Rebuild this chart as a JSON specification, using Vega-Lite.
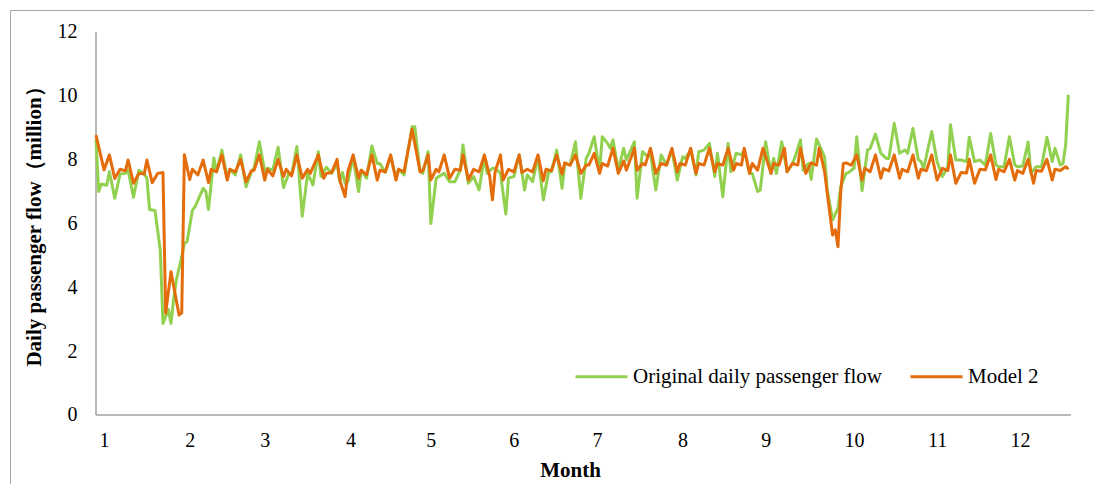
{
  "$schema": "https://vega.github.io/schema/vega-lite/v6.json",
  "width": 1084,
  "height": 474,
  "autosize": {"type": "none"},
  "padding": {"left": 10, "top": 10, "right": 0, "bottom": 0},
  "background": "white",
  "config": {
    "view": {"stroke": "#A6A6A6", "strokeWidth": 1},
    "axis": {"grid": false, "domain": false, "ticks": false, "labelFont": "Liberation Serif", "labelFontSize": 20, "labelColor": "#000000", "titleFont": "Liberation Serif", "titleFontSize": 21, "titleFontWeight": "bold", "titleColor": "#000000"},
    "legend": {"labelFont": "Liberation Serif", "labelFontSize": 21, "labelColor": "#000000", "labelLimit": 0}
  },
  "datasets": {
    "orig": [{"d":1,"v":8.62},{"d":2,"v":7.0},{"d":3,"v":7.24},{"d":5,"v":7.2},{"d":6,"v":7.62},{"d":8,"v":6.79},{"d":10,"v":7.55},{"d":12,"v":7.57},{"d":13,"v":7.67},{"d":15,"v":6.82},{"d":17,"v":7.67},{"d":19,"v":7.55},{"d":20,"v":7.42},{"d":21,"v":6.44},{"d":23,"v":6.41},{"d":25,"v":5.17},{"d":26,"v":2.87},{"d":28,"v":3.31},{"d":29,"v":2.87},{"d":30,"v":3.65},{"d":31,"v":4.23},{"d":33,"v":4.96},{"d":34,"v":5.38},{"d":35,"v":5.43},{"d":37,"v":6.42},{"d":38,"v":6.53},{"d":41,"v":7.1},{"d":42,"v":7.0},{"d":43,"v":6.44},{"d":45,"v":8.05},{"d":46,"v":7.62},{"d":48,"v":8.3},{"d":50,"v":7.42},{"d":51,"v":7.7},{"d":53,"v":7.52},{"d":55,"v":8.15},{"d":57,"v":7.15},{"d":59,"v":7.62},{"d":60,"v":7.73},{"d":62,"v":8.56},{"d":64,"v":7.62},{"d":65,"v":7.73},{"d":67,"v":7.67},{"d":69,"v":8.39},{"d":71,"v":7.13},{"d":73,"v":7.57},{"d":74,"v":7.52},{"d":76,"v":8.41},{"d":78,"v":6.23},{"d":80,"v":7.57},{"d":82,"v":7.21},{"d":84,"v":8.25},{"d":85,"v":7.47},{"d":87,"v":7.76},{"d":89,"v":7.57},{"d":91,"v":7.88},{"d":92,"v":7.31},{"d":93,"v":7.6},{"d":94,"v":7.26},{"d":95,"v":7.3},{"d":97,"v":8.09},{"d":99,"v":7.0},{"d":100,"v":7.67},{"d":102,"v":7.42},{"d":104,"v":8.43},{"d":106,"v":7.88},{"d":107,"v":7.88},{"d":109,"v":7.6},{"d":111,"v":8.1},{"d":113,"v":7.42},{"d":114,"v":7.7},{"d":116,"v":7.52},{"d":119,"v":9.03},{"d":120,"v":9.03},{"d":122,"v":7.62},{"d":123,"v":7.57},{"d":125,"v":8.25},{"d":126,"v":6.0},{"d":128,"v":7.42},{"d":129,"v":7.47},{"d":131,"v":7.57},{"d":133,"v":7.31},{"d":135,"v":7.31},{"d":137,"v":7.67},{"d":138,"v":8.46},{"d":140,"v":7.26},{"d":142,"v":7.47},{"d":144,"v":7.05},{"d":146,"v":8.09},{"d":147,"v":7.57},{"d":149,"v":7.73},{"d":150,"v":7.73},{"d":152,"v":7.57},{"d":154,"v":6.3},{"d":155,"v":7.42},{"d":157,"v":7.47},{"d":159,"v":8.15},{"d":161,"v":7.05},{"d":162,"v":7.52},{"d":164,"v":7.31},{"d":166,"v":8.09},{"d":168,"v":6.74},{"d":170,"v":7.62},{"d":171,"v":7.62},{"d":173,"v":8.3},{"d":175,"v":7.1},{"d":176,"v":7.88},{"d":178,"v":7.83},{"d":180,"v":8.56},{"d":182,"v":6.79},{"d":184,"v":8.04},{"d":185,"v":8.2},{"d":187,"v":8.72},{"d":189,"v":7.62},{"d":190,"v":8.72},{"d":192,"v":8.51},{"d":193,"v":8.36},{"d":194,"v":8.62},{"d":196,"v":7.67},{"d":198,"v":8.36},{"d":199,"v":7.99},{"d":202,"v":8.56},{"d":203,"v":6.79},{"d":205,"v":8.25},{"d":207,"v":8.09},{"d":208,"v":8.2},{"d":210,"v":7.05},{"d":212,"v":8.15},{"d":214,"v":7.83},{"d":216,"v":8.3},{"d":218,"v":7.36},{"d":220,"v":8.09},{"d":221,"v":8.04},{"d":223,"v":8.3},{"d":225,"v":7.52},{"d":226,"v":8.25},{"d":228,"v":8.3},{"d":230,"v":8.51},{"d":232,"v":7.47},{"d":233,"v":8.2},{"d":235,"v":6.84},{"d":237,"v":8.51},{"d":238,"v":7.62},{"d":240,"v":8.2},{"d":242,"v":8.15},{"d":243,"v":8.3},{"d":245,"v":7.57},{"d":246,"v":7.57},{"d":248,"v":7.0},{"d":249,"v":7.05},{"d":251,"v":8.56},{"d":253,"v":7.57},{"d":254,"v":8.04},{"d":255,"v":7.57},{"d":257,"v":8.56},{"d":259,"v":7.62},{"d":261,"v":7.88},{"d":262,"v":8.09},{"d":264,"v":8.62},{"d":265,"v":7.67},{"d":267,"v":7.88},{"d":268,"v":7.38},{"d":270,"v":8.65},{"d":273,"v":8.09},{"d":274,"v":7.05},{"d":276,"v":6.11},{"d":278,"v":6.47},{"d":279,"v":7.15},{"d":281,"v":7.57},{"d":282,"v":7.6},{"d":284,"v":7.73},{"d":285,"v":8.72},{"d":287,"v":7.03},{"d":289,"v":8.3},{"d":290,"v":8.35},{"d":292,"v":8.8},{"d":294,"v":8.2},{"d":296,"v":8.04},{"d":297,"v":8.04},{"d":299,"v":9.14},{"d":301,"v":8.2},{"d":303,"v":8.3},{"d":304,"v":8.2},{"d":306,"v":8.98},{"d":308,"v":8.0},{"d":309,"v":7.94},{"d":310,"v":7.73},{"d":313,"v":8.88},{"d":315,"v":7.94},{"d":317,"v":7.47},{"d":319,"v":7.78},{"d":320,"v":9.09},{"d":322,"v":7.99},{"d":324,"v":7.99},{"d":326,"v":7.94},{"d":327,"v":8.7},{"d":329,"v":7.94},{"d":331,"v":7.99},{"d":333,"v":7.83},{"d":335,"v":8.82},{"d":337,"v":7.83},{"d":338,"v":7.78},{"d":340,"v":7.78},{"d":342,"v":8.72},{"d":344,"v":7.83},{"d":345,"v":7.78},{"d":347,"v":7.8},{"d":349,"v":8.55},{"d":350,"v":7.57},{"d":352,"v":7.78},{"d":354,"v":7.78},{"d":356,"v":8.7},{"d":358,"v":7.94},{"d":359,"v":8.36},{"d":361,"v":7.83},{"d":362,"v":7.88},{"d":363,"v":8.46},{"d":364,"v":10.03}],
    "model": [{"d":1,"v":8.77},{"d":4,"v":7.68},{"d":6,"v":8.15},{"d":8,"v":7.41},{"d":10,"v":7.7},{"d":12,"v":7.65},{"d":13,"v":7.99},{"d":15,"v":7.26},{"d":17,"v":7.57},{"d":19,"v":7.55},{"d":20,"v":7.99},{"d":22,"v":7.28},{"d":24,"v":7.57},{"d":26,"v":7.6},{"d":27,"v":3.19},{"d":29,"v":4.49},{"d":32,"v":3.13},{"d":33,"v":3.2},{"d":34,"v":8.15},{"d":36,"v":7.38},{"d":37,"v":7.7},{"d":39,"v":7.52},{"d":41,"v":7.99},{"d":43,"v":7.28},{"d":44,"v":7.7},{"d":46,"v":7.62},{"d":48,"v":8.15},{"d":50,"v":7.36},{"d":51,"v":7.7},{"d":53,"v":7.62},{"d":55,"v":8.01},{"d":57,"v":7.31},{"d":59,"v":7.65},{"d":60,"v":7.67},{"d":62,"v":8.15},{"d":64,"v":7.36},{"d":65,"v":7.7},{"d":67,"v":7.49},{"d":69,"v":8.01},{"d":71,"v":7.47},{"d":72,"v":7.7},{"d":74,"v":7.49},{"d":76,"v":8.15},{"d":78,"v":7.42},{"d":80,"v":7.7},{"d":81,"v":7.57},{"d":84,"v":8.15},{"d":86,"v":7.42},{"d":87,"v":7.57},{"d":89,"v":7.6},{"d":91,"v":8.01},{"d":92,"v":7.36},{"d":94,"v":6.84},{"d":95,"v":7.62},{"d":97,"v":8.15},{"d":99,"v":7.42},{"d":100,"v":7.67},{"d":102,"v":7.52},{"d":104,"v":8.15},{"d":106,"v":7.36},{"d":107,"v":7.67},{"d":109,"v":7.62},{"d":111,"v":8.15},{"d":113,"v":7.36},{"d":114,"v":7.7},{"d":116,"v":7.62},{"d":119,"v":8.95},{"d":122,"v":7.62},{"d":123,"v":7.65},{"d":125,"v":8.15},{"d":126,"v":7.36},{"d":128,"v":7.7},{"d":129,"v":7.62},{"d":131,"v":8.15},{"d":133,"v":7.42},{"d":135,"v":7.7},{"d":137,"v":7.67},{"d":138,"v":8.15},{"d":140,"v":7.36},{"d":142,"v":7.7},{"d":144,"v":7.62},{"d":146,"v":8.15},{"d":148,"v":7.47},{"d":149,"v":6.74},{"d":150,"v":7.62},{"d":152,"v":8.15},{"d":153,"v":7.36},{"d":155,"v":7.7},{"d":157,"v":7.62},{"d":159,"v":8.15},{"d":160,"v":7.6},{"d":162,"v":7.7},{"d":164,"v":7.62},{"d":166,"v":8.15},{"d":168,"v":7.34},{"d":169,"v":7.7},{"d":171,"v":7.65},{"d":173,"v":8.15},{"d":175,"v":7.55},{"d":176,"v":7.9},{"d":178,"v":7.83},{"d":180,"v":8.15},{"d":182,"v":7.57},{"d":184,"v":7.83},{"d":185,"v":7.83},{"d":187,"v":8.2},{"d":189,"v":7.57},{"d":190,"v":7.88},{"d":192,"v":7.8},{"d":194,"v":8.36},{"d":196,"v":7.57},{"d":198,"v":7.96},{"d":199,"v":7.67},{"d":202,"v":8.36},{"d":203,"v":7.67},{"d":205,"v":7.88},{"d":206,"v":7.83},{"d":208,"v":8.36},{"d":210,"v":7.57},{"d":212,"v":7.88},{"d":214,"v":7.83},{"d":216,"v":8.36},{"d":218,"v":7.62},{"d":219,"v":7.88},{"d":221,"v":7.83},{"d":223,"v":8.36},{"d":225,"v":7.57},{"d":226,"v":7.88},{"d":228,"v":7.83},{"d":230,"v":8.36},{"d":232,"v":7.62},{"d":233,"v":7.88},{"d":235,"v":7.83},{"d":237,"v":8.36},{"d":239,"v":7.67},{"d":240,"v":7.88},{"d":242,"v":7.83},{"d":243,"v":8.36},{"d":245,"v":7.57},{"d":246,"v":7.88},{"d":248,"v":7.67},{"d":250,"v":8.36},{"d":253,"v":7.57},{"d":254,"v":7.88},{"d":256,"v":7.83},{"d":258,"v":8.36},{"d":259,"v":7.62},{"d":261,"v":7.88},{"d":263,"v":7.83},{"d":264,"v":8.36},{"d":266,"v":7.57},{"d":268,"v":7.9},{"d":270,"v":7.83},{"d":271,"v":8.36},{"d":273,"v":7.62},{"d":274,"v":6.95},{"d":276,"v":5.64},{"d":277,"v":5.8},{"d":278,"v":5.27},{"d":279,"v":6.95},{"d":280,"v":7.88},{"d":281,"v":7.9},{"d":283,"v":7.83},{"d":285,"v":8.15},{"d":287,"v":7.36},{"d":288,"v":7.73},{"d":290,"v":7.62},{"d":292,"v":8.15},{"d":294,"v":7.42},{"d":295,"v":7.72},{"d":297,"v":7.65},{"d":299,"v":8.15},{"d":301,"v":7.42},{"d":302,"v":7.7},{"d":304,"v":7.62},{"d":306,"v":8.15},{"d":308,"v":7.42},{"d":309,"v":7.7},{"d":311,"v":7.65},{"d":313,"v":8.15},{"d":315,"v":7.36},{"d":317,"v":7.73},{"d":319,"v":7.66},{"d":320,"v":8.15},{"d":322,"v":7.26},{"d":324,"v":7.6},{"d":326,"v":7.58},{"d":327,"v":8.01},{"d":329,"v":7.26},{"d":331,"v":7.7},{"d":333,"v":7.68},{"d":335,"v":8.15},{"d":337,"v":7.38},{"d":338,"v":7.7},{"d":340,"v":7.62},{"d":342,"v":8.01},{"d":344,"v":7.36},{"d":345,"v":7.66},{"d":347,"v":7.57},{"d":349,"v":8.01},{"d":351,"v":7.26},{"d":352,"v":7.66},{"d":354,"v":7.64},{"d":356,"v":8.01},{"d":358,"v":7.36},{"d":359,"v":7.7},{"d":361,"v":7.66},{"d":363,"v":7.78},{"d":364,"v":7.7}]
  },
  "layer": [
    {
      "data": {"values": [{}]},
      "mark": {"type": "rule", "color": "#A0A0A0", "strokeWidth": 1.5},
      "encoding": {
        "x": {"datum": 1, "type": "quantitative", "scale": {"domain": [-31.107, 373.58], "nice": false, "zero": false}, "axis": {"values": [4, 36, 64, 96, 126, 157, 188, 220, 251, 284, 315, 346], "labelExpr": "'' + (indexof([4, 36, 64, 96, 126, 157, 188, 220, 251, 284, 315, 346], datum.value) + 1)", "offset": -69, "labelPadding": 15, "title": "Month", "titleX": 560, "titleY": 55, "titleBaseline": "middle", "titleAnchor": null}},
        "y": {"datum": 0, "type": "quantitative", "scale": {"domain": [-2.162, 12.689], "nice": false, "zero": false}, "axis": {"values": [0, 2, 4, 6, 8, 10, 12], "offset": -86, "labelPadding": 19, "title": "Daily passenger flow（million）", "titleX": -62, "titleY": 211, "titleBaseline": "middle", "titleAlign": "center", "titleAngle": -90}},
        "y2": {"datum": 12}
      }
    },
    {
      "data": {"values": [{}]},
      "mark": {"type": "rule", "color": "#A0A0A0", "strokeWidth": 1.5},
      "encoding": {
        "x": {"datum": 1, "type": "quantitative"},
        "x2": {"datum": 365},
        "y": {"datum": 0, "type": "quantitative"}
      }
    },
    {
      "data": {"name": "orig"},
      "mark": {"type": "line", "strokeWidth": 3, "strokeJoin": "round"},
      "encoding": {
        "x": {"field": "d", "type": "quantitative"},
        "y": {"field": "v", "type": "quantitative"},
        "color": {"datum": "Original daily passenger flow", "type": "nominal",
          "scale": {"domain": ["Original daily passenger flow", "Model 2"], "range": ["#92D050", "#E46C0A"]},
          "legend": {"title": null, "orient": "none", "legendX": 564, "legendY": 339, "direction": "horizontal", "symbolType": "stroke", "symbolSize": 2704, "symbolStrokeWidth": 3, "labelOffset": 4, "labelLimit": 0, "columnPadding": 21, "padding": 0}}
      }
    },
    {
      "data": {"name": "model"},
      "mark": {"type": "line", "strokeWidth": 3, "strokeJoin": "round"},
      "encoding": {
        "x": {"field": "d", "type": "quantitative"},
        "y": {"field": "v", "type": "quantitative"},
        "color": {"datum": "Model 2", "type": "nominal"}
      }
    }
  ]
}
